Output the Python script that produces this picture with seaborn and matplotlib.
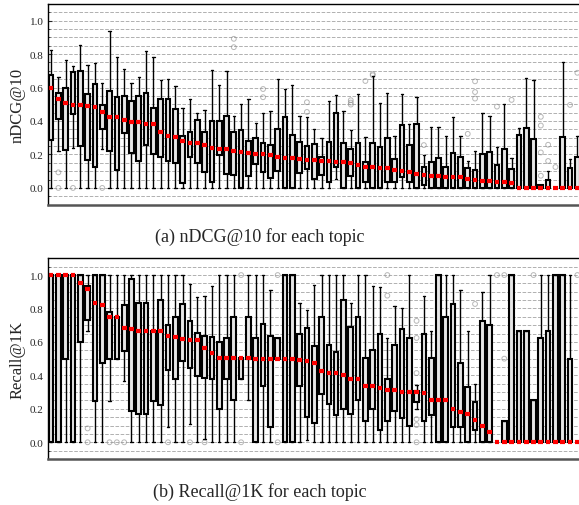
import numpy as np
import pandas as pd
import matplotlib
matplotlib.use("Agg")
import matplotlib.pyplot as plt
import seaborn as sns

# nDCG@10 per topic (sorted by median): whisker low, q1, median, q3, whisker high
ndcg_lo = [0, 0.218, 0, 0.238, 0, 0, 0, 0.232, 0, 0, 0, 0, 0, 0, 0, 0, 0, 0, 0, 0,
           0, 0, 0, 0, 0, 0, 0, 0, 0, 0, 0, 0, 0, 0, 0, 0, 0, 0, 0, 0.052, 0, 0, 0, 0, 0, 0,
           0, 0, 0, 0, 0, 0, 0, 0, 0, 0, 0, 0, 0, 0, 0, 0, 0, 0, 0, 0, 0, 0, 0, 0, 0, 0, 0, 0]
ndcg_q1 = [0.288, 0.41, 0.226, 0.44, 0.248, 0.167, 0.123, 0.355, 0.218, 0.109, 0.327, 0.208,
           0.159, 0.256, 0.202, 0.183, 0.159, 0.149, 0.03, 0.183, 0.147, 0.093, 0.038, 0.198,
           0.083, 0.077, 0.0, 0.071, 0.143, 0.093, 0.062, 0.103, 0.0, 0.0, 0.089, 0.115, 0.052,
           0.079, 0.034, 0.125, 0.0, 0.071, 0.0, 0.036, 0.0, 0.0, 0.034, 0.036, 0.063, 0.034,
           0.0, 0.02, 0, 0, 0, 0, 0, 0, 0, 0, 0, 0, 0, 0, 0, 0, 0, 0, 0, 0, 0, 0, 0, 0]
ndcg_med = [0.597, 0.532, 0.508, 0.498, 0.498, 0.49, 0.486, 0.454, 0.423, 0.423, 0.407, 0.393,
            0.393, 0.381, 0.381, 0.337, 0.31, 0.304, 0.282, 0.268, 0.268, 0.258, 0.238, 0.232,
            0.23, 0.218, 0.214, 0.206, 0.204, 0.202, 0.194, 0.185, 0.179, 0.177, 0.175, 0.169,
            0.165, 0.163, 0.159, 0.157, 0.153, 0.151, 0.139, 0.127, 0.125, 0.121, 0.119, 0.109,
            0.099, 0.093, 0.081, 0.075, 0.073, 0.069, 0.063, 0.063, 0.063, 0.054, 0.048, 0.044,
            0.042, 0.036, 0.034, 0.03, 0, 0, 0, 0, 0, 0, 0, 0, 0, 0]
ndcg_q3 = [0.677, 0.567, 0.6, 0.69, 0.698, 0.563, 0.619, 0.498, 0.581, 0.544, 0.55, 0.518,
           0.55, 0.567, 0.48, 0.534, 0.532, 0.47, 0.311, 0.337, 0.407, 0.337, 0.401, 0.397,
           0.431, 0.337, 0.349, 0.28, 0.3, 0.268, 0.258, 0.353, 0.421, 0.319, 0.276, 0.252,
           0.264, 0.187, 0.276, 0.45, 0.268, 0.234, 0.266, 0.153, 0.27, 0.242, 0.3, 0.175,
           0.375, 0.254, 0.381, 0.127, 0.157, 0.177, 0.125, 0.206, 0.183, 0.119, 0.107, 0.202,
           0.214, 0.139, 0.23, 0.113, 0.319, 0.359, 0.294, 0.02, 0.05, 0.0, 0.306, 0.117,
           0.185, 0.252]
ndcg_hi = [0.825, 0.665, 0.764, 0.728, 0.855, 0.734, 0.746, 0.625, 0.937, 0.782, 0.71, 0.625,
           0.665, 0.821, 0.784, 0.643, 0.649, 0.611, 0.478, 0.53, 0.446, 0.466, 0.702, 0.615,
           0.698, 0.429, 0.502, 0.534, 0.385, 0.45, 0.458, 0.653, 0.591, 0.615, 0.431, 0.423,
           0.351, 0.296, 0.522, 0.556, 0.458, 0.345, 0.56, 0.302, 0.669, 0.508, 0.565, 0.31,
           0.56, 0.383, 0.542, 0.198, 0.367, 0.367, 0.31, 0.425, 0.313, 0.159, 0.22, 0.448,
           0.427, 0.242, 0.5, 0.179, 0.361, 0.657, 0.645, 0.02, 0.101, 0.0, 0.754, 0.175,
           0.313, 0.319]
ndcg_out_topic = [1, 1, 3, 7, 25, 25, 29, 29, 35, 35, 41, 41, 41, 43, 44, 44, 51, 57, 58, 58,
                  58, 61, 63, 67, 67, 67, 67, 68, 68, 69, 71, 72]
ndcg_out_val = [0.093, 0.0, 0.0, 0.0, 0.891, 0.841, 0.591, 0.542, 0.512, 0.454, 0.524, 0.51,
                0.498, 0.639, 0.68, 0.673, 0.256, 0.323, 0.637, 0.573, 0.534, 0.486, 0.526,
                0.425, 0.373, 0.212, 0.073, 0.258, 0.161, 0.125, 0.496, 0.688]

# Recall@1K per topic
rec_lo = [0, 0, 0, 0, 0, 0.666, 0, 0, 0.249, 0.5, 0.364, 0, 0, 0, 0, 0, 0.089, 0, 0, 0.111,
          0, 0.02, 0, 0, 0, 0, 0.376, 0.25, 0, 0, 0, 0.5, 0, 0, 0, 0.012, 0, 0, 0, 0, 0, 0,
          0, 0, 0, 0, 0, 0, 0, 0, 0.2, 0, 0, 0, 0, 0, 0, 0, 0, 0, 0, 0, 0, 0, 0, 0, 0, 0, 0,
          0, 0, 0, 0, 0]
rec_q1 = [0, 0, 0.5, 0, 0.6, 0.732, 0.249, 0.477, 0.5, 0.5, 0.547, 0.187, 0.167, 0.167, 0.249,
          0.221, 0.431, 0.376, 0.487, 0.443, 0.394, 0.384, 0.378, 0.199, 0.376, 0.25, 0.376,
          0.5, 0, 0.334, 0.089, 0.5, 0, 0, 0.334, 0.151, 0.115, 0.286, 0.229, 0.165, 0.199,
          0.167, 0.25, 0.125, 0.199, 0.072, 0.125, 0.189, 0.147, 0.099, 0.243, 0.129, 0.165,
          0, 0, 0.09, 0.089, 0, 0.076, 0, 0, 0, 0, 0, 0, 0, 0, 0, 0, 0, 0, 0, 0, 0]
rec_med = [1, 1, 1, 1, 0.955, 0.918, 0.835, 0.819, 0.751, 0.751, 0.682, 0.676, 0.668, 0.668,
           0.668, 0.668, 0.638, 0.628, 0.618, 0.612, 0.61, 0.565, 0.535, 0.501, 0.501, 0.501,
           0.501, 0.501, 0.5, 0.5, 0.5, 0.5, 0.5, 0.5, 0.491, 0.487, 0.473, 0.429, 0.417, 0.417,
           0.4, 0.376, 0.376, 0.334, 0.334, 0.322, 0.312, 0.312, 0.3, 0.3, 0.3, 0.292, 0.25,
           0.25, 0.25, 0.2, 0.183, 0.167, 0.131, 0.099, 0.064, 0, 0, 0, 0, 0, 0, 0, 0, 0, 0, 0,
           0, 0]
rec_q3 = [1, 1, 1, 1, 1, 0.934, 1, 1, 0.781, 0.751, 0.821, 0.978, 0.833, 0.833, 0.668, 0.849,
          0.704, 0.751, 0.825, 0.724, 0.652, 0.638, 0.632, 0.6, 0.626, 0.751, 0.501, 0.751,
          0.626, 0.71, 0.638, 0.626, 1, 1, 0.648, 0.686, 0.573, 0.751, 0.584, 0.541, 0.853,
          0.69, 0.751, 0.501, 0.551, 0.646, 0.376, 0.581, 0.676, 0.626, 0.308, 0.646, 0.501,
          1, 0.751, 0.827, 0.477, 0.332, 0.239, 0.726, 0.704, 0, 0.125, 1, 0.666, 0.666, 0.25,
          0.626, 0.666, 1, 1, 0.5, 0, 0.25]
rec_hi = [1, 1, 1, 1, 1, 1, 1, 1, 1, 1, 1, 1, 1, 1, 1, 1, 1, 1, 1, 0.946, 0.871, 0.875, 0.934,
          1, 1, 1, 0.501, 1, 1, 1, 0.913, 0.626, 1, 1, 0.833, 0.793, 0.942, 1, 1, 1, 1, 0.833,
          1, 1, 0.934, 0.93, 0.626, 0.813, 0.803, 1, 0.344, 0.873, 0.666, 1, 1, 1, 0.911,
          0.666, 0.35, 0.9, 1, 0, 0.125, 1, 0.666, 0.666, 0.25, 1, 1, 1, 1, 1, 0, 0.25]
rec_out_topic = [5, 5, 8, 9, 10, 16, 19, 21, 26, 26, 31, 31, 46, 46, 50, 50, 50, 50, 50, 50,
                 58, 61, 62, 62, 66, 72, 73]
rec_out_val = [0.083, 0.0, 0.0, 0.0, 0.0, 0.0, 0.0, 0.0, 1.0, 0.0, 1.0, 0.0, 1.0, 0.877,
               0.726, 0.624, 0.414, 0.139, 0.103, 0.0, 0.827, 1.0, 1.0, 0.5, 1.0, 1.0, 1.0]

serif = "Liberation Serif"
sns.set_style("white")
plt.rcParams["font.family"] = [serif, "DejaVu Serif"]


def to_long(lo, q1, med, q3, hi):
    rows = []
    for i, vals in enumerate(zip(lo, q1, med, q3, hi)):
        for v in vals:
            rows.append((i, v))
    return pd.DataFrame(rows, columns=["topic", "value"])


def draw_panel(ax, stats, out_topic, out_val, ylabel):
    df = to_long(*stats)
    n = len(stats[0])
    sns.boxplot(data=df, x="topic", y="value", native_scale=True, whis=(0, 100),
                width=0.64, color="#e6e6e6", saturation=1, linecolor="black",
                linewidth=1.5, showfliers=False, ax=ax,
                medianprops=dict(color="red", linewidth=3.0, solid_capstyle="butt"),
                whiskerprops=dict(linewidth=1.0),
                capprops=dict(linewidth=1.0))
    fl = pd.DataFrame({"topic": out_topic, "value": out_val})
    sns.scatterplot(data=fl, x="topic", y="value", ax=ax, marker="o", s=12,
                    facecolor="none", edgecolor="#888888", linewidth=0.7, alpha=0.6,
                    zorder=1)
    ax.set_xlim(-0.46, n - 0.4)
    ax.set_ylim(-0.1, 1.1)
    ax.set_yticks(np.arange(0, 1.01, 0.2))
    ax.set_yticklabels([f"{t:.1f}" for t in np.arange(0, 1.01, 0.2)], fontsize=8)
    ax.set_yticks(np.arange(-0.05, 1.1, 0.05), minor=True)
    ax.grid(which="both", axis="y", linestyle="--", color="#b0b0b0", linewidth=0.7)
    ax.set_axisbelow(True)
    ax.tick_params(axis="y", which="major", length=3, direction="in", left=True, pad=3)
    ax.tick_params(axis="y", which="minor", length=1.5, direction="in", left=True)
    ax.set_xticks([])
    ax.set_xlabel("")
    ax.set_ylabel(ylabel, fontsize=12, labelpad=3)
    for s in ["top", "left", "right"]:
        ax.spines[s].set_color("black")
        ax.spines[s].set_linewidth(1.0)
    ax.spines["bottom"].set_color("#555555")
    ax.spines["bottom"].set_linewidth(1.8)


fig = plt.figure(figsize=(5.79, 5.06), dpi=100)
ax1 = fig.add_axes([0.0824, 0.5935, 0.935, 0.397])
ax2 = fig.add_axes([0.0824, 0.0909, 0.935, 0.3966])

draw_panel(ax1, (ndcg_lo, ndcg_q1, ndcg_med, ndcg_q3, ndcg_hi),
           ndcg_out_topic, ndcg_out_val, "nDCG@10")
draw_panel(ax2, (rec_lo, rec_q1, rec_med, rec_q3, rec_hi),
           rec_out_topic, rec_out_val, "Recall@1K")

fig.text(0.449, 0.531, "(a) nDCG@10 for each topic", ha="center", va="center", fontsize=13)
fig.text(0.449, 0.027, "(b) Recall@1K for each topic", ha="center", va="center", fontsize=13)

fig.savefig("out.png", dpi=100)
